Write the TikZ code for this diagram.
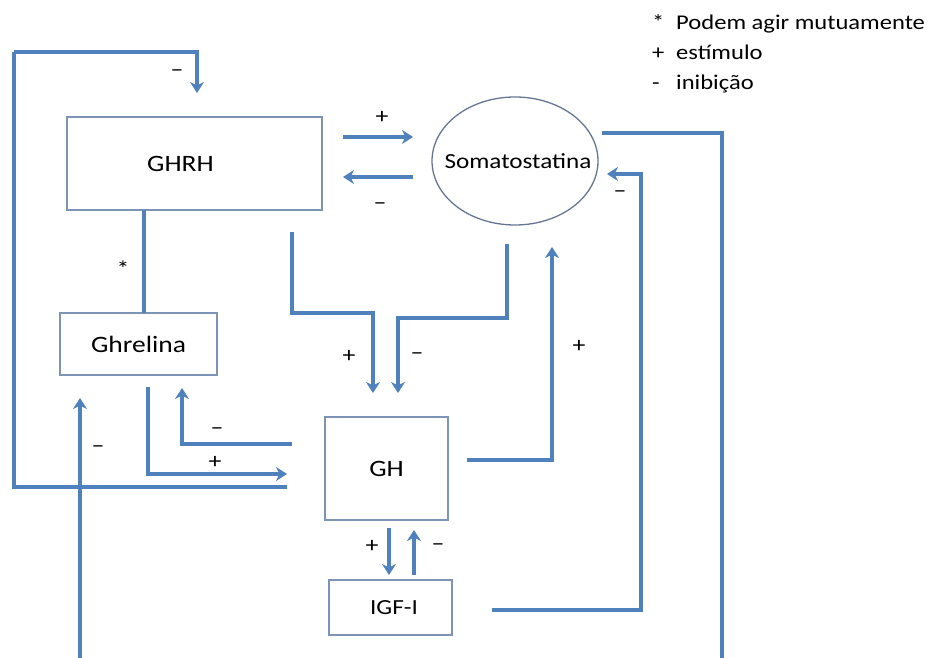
\documentclass[tikz,border=0pt]{standalone}
\usepackage{fontspec}
\setmainfont{Carlito}[FakeStretch=1.17]
\usepackage{tikz}
\usetikzlibrary{shapes.geometric, arrows.meta, positioning}
\definecolor{flowblue}{RGB}{79,129,189}
\definecolor{boxline}{RGB}{125,148,182}
\definecolor{ovalline}{RGB}{100,118,148}
\tikzstyle{block} = [rectangle, draw=boxline, line width=1.3pt, text centered, inner sep=0pt, outer sep=0pt, font=\fontsize{23.5}{28}\selectfont]
\tikzstyle{oval} = [ellipse, draw=ovalline, line width=1.3pt, inner sep=0pt, outer sep=0pt, font=\fontsize{21.5}{26}\selectfont]
\tikzstyle{arrow} = [line width=3.1pt, draw=flowblue, -{Stealth[length=11pt,width=14pt,inset=3.5pt]}]
\tikzstyle{line} = [line width=3.1pt, draw=flowblue, -]
\tikzstyle{sign} = [inner sep=0pt, anchor=base, font=\fontsize{22}{26}\selectfont]
\tikzstyle{legend} = [inner sep=0pt, anchor=base west, font=\fontsize{21}{25}\selectfont]

\begin{document}
\begin{tikzpicture}[x=1pt, y=1pt]
        \useasboundingbox (0,0) rectangle (932,658);

        \node (ghrh) [block, minimum width=255pt, minimum height=93pt] at (194.5,494.5) {GHRH\hspace*{28pt}};
        \node (soma) [oval, minimum width=166pt, minimum height=128pt] at (515,497) {\makebox[0pt]{\hspace*{6pt}Somatostatina}};
        \node (ghrelina) [block, minimum width=157pt, minimum height=62pt] at (138.5,314) {Ghrelina};
        \node (gh) [block, minimum width=123pt, minimum height=103pt] at (386.5,189.5) {GH};
        \node (igf) [block, font=\fontsize{21.5}{26}\selectfont, minimum width=123pt, minimum height=55pt] at (390.5,50.5) {\hspace*{7pt}IGF-I};

        % free ends at the lower edge and the loop corner
        \coordinate (loopcorner) at (14,606);
        \coordinate (rightfoot) at (722,0);
        \coordinate (leftfoot) at (80,0);

        % GHRH <-> Somatostatina
        \draw [arrow] ([xshift=21pt,yshift=26.5pt]ghrh.east) -- ([xshift=-19pt,yshift=24pt]soma.west);
        \draw [arrow] ([xshift=-19pt,yshift=-16pt]soma.west) -- ([xshift=21pt,yshift=-13.5pt]ghrh.east);
        \draw [line] (ghrh.south -| ghrelina.north) ++(5.5,0) -- ([xshift=5.5pt]ghrelina.north);

        % into GH
        \draw [arrow] ([xshift=97.5pt,yshift=-22pt]ghrh.south) |- ++(81,-81) -- ([xshift=-13.5pt,yshift=24pt]gh.north);
        \draw [arrow] ([xshift=-8pt,yshift=-19pt]soma.south) -- ++(0,-74) -| ([xshift=11.5pt,yshift=24pt]gh.north);
        \draw [arrow] ([xshift=9.5pt,yshift=-12pt]ghrelina.south) |- ([xshift=-38pt,yshift=-5.5pt]gh.west);

        % out of GH
        \draw [arrow] ([xshift=-33pt,yshift=24.5pt]gh.west) -| ([xshift=43.5pt,yshift=-13pt]ghrelina.south);
        \draw [arrow] ([xshift=19pt,yshift=8.5pt]gh.east) -| ([xshift=37pt,yshift=-22pt]soma.south);
        \draw [line] ([xshift=-38pt,yshift=-18.5pt]gh.west) -| (loopcorner);
        \draw [arrow] (loopcorner) -| ([xshift=2.5pt,yshift=24pt]ghrh.north);

        % GH <-> IGF-I
        \draw [arrow] ([xshift=2.5pt,yshift=-8pt]gh.south) -- ([xshift=-1.5pt,yshift=5pt]igf.north);
        \draw [arrow] ([xshift=23.5pt,yshift=5pt]igf.north) -- ([xshift=27.5pt,yshift=-10pt]gh.south);

        % long returns
        \draw [arrow] ([xshift=40pt,yshift=-2.5pt]igf.east) -| ([xshift=43pt,yshift=-13pt]soma.east) -- ([xshift=9pt,yshift=-13pt]soma.east);
        \draw [line] ([xshift=4pt,yshift=28pt]soma.east) -| (rightfoot);
        \draw [arrow] (leftfoot) -- ([xshift=-58.5pt,yshift=-23pt]ghrelina.south);

        % signs
        \node (s1) [sign] at (382,534) {+};
        \node (s2) [sign] at (380,448) {–};
        \node (s3) [sign] at (177,581) {–};
        \node (s4) [sign] at (123,381) {*};
        \node (s5) [sign] at (349,295) {+};
        \node (s6) [sign] at (417,298) {–};
        \node (s7) [sign] at (620,460) {–};
        \node (s8) [sign] at (579,305) {+};
        \node (s9) [sign] at (217,223) {–};
        \node (s10) [sign] at (215,189) {+};
        \node (s11) [sign] at (98,205) {–};
        \node (s12) [sign] at (372,105) {+};
        \node (s13) [sign] at (438,107) {–};

        % legend
        \node (leg1) [legend] at (652,628) {\makebox[24pt][l]{*}Podem agir mutuamente};
        \node (leg2) [legend] at (652,598) {\makebox[24pt][l]{+}estímulo};
        \node (leg3) [legend] at (652,568) {\makebox[24pt][l]{-}inibição};

    \end{tikzpicture}
\end{document}
